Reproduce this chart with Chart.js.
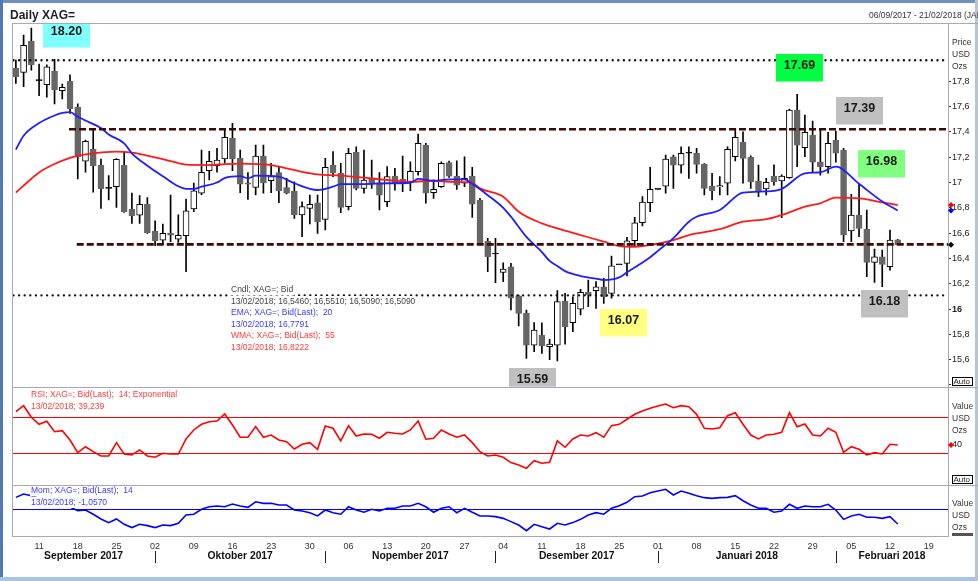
<!DOCTYPE html>
<html>
<head>
<meta charset="utf-8">
<script src="https://cdn.jsdelivr.net/npm/chart.js@4/dist/chart.umd.min.js"></script>
<style>
html, body { margin: 0; padding: 0; background: #fff; }
#wrap { position: relative; width: 978px; height: 581px; }
</style>
</head>
<body>
<div id="wrap"><canvas id="c" width="978" height="581"></canvas></div>
<script>
// ---- data (index 0 = 06/09/2017, weekdays only) ----
var opens = [17.905,17.871,18.116,17.805,17.773,17.879,17.726,17.800,17.594,17.168,
  17.262,17.136,16.954,16.967,17.136,16.788,16.741,16.828,16.617,16.545,
  16.601,16.553,16.580,16.791,16.915,17.093,17.133,17.186,17.349,17.191,
  16.998,16.962,17.209,17.014,17.078,16.959,16.933,16.743,16.796,16.840,
  16.709,17.138,17.073,16.809,17.239,16.954,17.038,16.998,16.848,17.051,
  17.028,16.998,17.085,17.296,16.919,16.967,17.157,17.051,16.994,17.051,
  16.862,16.535,16.435,16.290,16.334,16.105,15.966,15.715,15.794,15.702,
  15.715,16.063,15.892,15.998,16.132,16.145,16.176,16.124,16.350,16.361,
  16.540,16.682,16.840,16.946,16.972,17.204,17.138,17.231,17.231,17.144,
  16.972,16.965,16.994,17.204,17.318,17.199,17.012,16.949,17.051,17.012,
  17.038,17.573,17.275,17.375,17.164,17.125,17.336,17.257,16.617,16.743,
  16.632,16.369,16.413,16.334,16.546];
var highs = [17.968,18.166,18.221,17.937,17.930,17.974,17.779,17.852,17.621,17.336,
  17.415,17.186,17.054,17.190,17.241,16.917,16.896,16.880,16.698,16.672,
  16.901,16.745,16.870,16.996,17.257,17.247,17.270,17.415,17.468,17.257,
  17.078,17.296,17.296,17.152,17.130,17.033,17.006,16.848,16.901,16.901,
  17.191,17.244,17.152,17.270,17.283,17.257,17.178,17.078,17.125,17.112,
  17.209,17.164,17.383,17.310,17.020,17.164,17.170,17.172,17.204,17.120,
  16.875,16.559,16.559,16.366,16.361,16.111,15.992,15.892,15.890,15.760,
  16.145,16.124,16.097,16.156,16.229,16.216,16.243,16.419,16.350,16.567,
  16.725,16.888,17.120,16.946,17.217,17.217,17.283,17.283,17.270,17.150,
  17.073,17.046,17.283,17.428,17.400,17.210,17.138,17.033,17.140,17.060,
  17.580,17.697,17.534,17.486,17.415,17.397,17.407,17.270,16.907,16.986,
  16.783,16.474,16.466,16.625,16.551];
var lows = [17.784,17.757,17.889,17.686,17.674,17.621,17.660,17.547,17.028,17.081,
  16.923,16.796,16.862,16.804,16.764,16.677,16.677,16.598,16.500,16.508,
  16.532,16.527,16.295,16.770,16.904,17.020,17.081,17.152,17.093,16.919,
  16.867,16.901,16.915,16.919,16.840,16.910,16.717,16.572,16.672,16.598,
  16.625,17.046,16.761,16.783,16.941,16.915,16.954,16.783,16.809,16.940,
  16.927,16.935,17.059,16.836,16.875,16.962,17.040,16.946,16.967,16.725,
  16.519,16.295,16.208,16.216,15.992,15.866,15.610,15.662,15.650,15.600,
  15.590,15.723,15.821,15.953,16.018,16.005,16.045,16.085,16.350,16.261,
  16.498,16.656,16.769,16.946,16.915,16.954,17.073,17.033,17.073,16.901,
  16.862,16.901,16.901,17.170,16.994,16.954,16.888,16.901,16.980,16.722,
  17.033,17.125,17.204,17.081,17.059,17.073,17.160,16.532,16.532,16.572,
  16.255,16.211,16.176,16.308,16.509];
var closes = [17.836,18.085,17.931,17.805,17.915,17.734,17.753,17.583,17.204,17.326,
  17.133,16.951,16.954,17.183,16.769,16.738,16.828,16.603,16.540,16.598,
  16.583,16.583,16.777,16.935,17.081,17.168,17.178,17.357,17.186,16.986,
  16.986,17.209,16.998,17.046,16.935,16.915,16.743,16.809,16.828,16.690,
  17.120,17.078,16.804,17.231,16.954,17.020,16.994,16.899,17.046,16.996,
  16.988,17.089,17.310,16.915,16.946,17.152,17.051,16.980,17.033,16.828,
  16.524,16.413,16.435,16.316,16.085,15.966,15.715,15.834,15.708,15.723,
  16.058,15.860,16.045,16.132,16.111,16.176,16.097,16.342,16.350,16.540,
  16.682,16.846,16.946,16.946,17.186,17.138,17.231,17.231,17.144,16.954,
  16.935,16.975,17.262,17.357,17.191,17.006,16.927,17.002,17.006,17.051,
  17.573,17.296,17.397,17.160,17.125,17.310,17.231,16.585,16.743,16.638,
  16.369,16.413,16.353,16.545,16.509];

// EMA(20) and WMA(55) read at sample points (null = not read)
var ema20 = [];
var wma55 = [];
var emaRead = {0:17.26,1:17.37,3:17.47,5:17.53,6:17.55,7:17.557,8:17.52,9:17.49,11:17.43,12:17.38,
  14:17.31,15:17.23,17:17.133,19:17.05,21:16.97,22:16.95,23:16.949,24:16.967,26:17.0,27:17.035,
  29:17.05,30:17.033,31:17.054,34:17.046,36:16.994,39:16.941,41:16.967,42:16.988,45:16.988,48:16.994,
  51:16.998,52:17.028,54:17.014,56:17.025,58:17.025,59:16.99,61:16.90,63:16.80,64:16.73,66:16.57,
  68:16.45,69:16.38,70:16.34,71:16.30,73:16.261,75:16.24,76:16.229,78:16.25,79:16.29,82:16.41,
  83:16.46,85:16.56,87:16.69,88:16.729,91:16.783,94:16.92,97:16.93,99:16.949,102:17.073,104:17.081,
  106:17.125,109:16.99,112:16.85,114:16.779};
var wmaRead = {0:16.92,2:17.03,3:17.08,5:17.146,7:17.194,8:17.21,10:17.231,13:17.244,15:17.236,17:17.212,
  20:17.17,22:17.141,25:17.138,27:17.146,29:17.15,33:17.138,35:17.112,37:17.085,39:17.065,42:17.054,
  45:17.038,48:17.02,51:17.006,54:17.014,56:17.006,59:16.998,60:16.954,63:16.888,65:16.769,68:16.677,
  70:16.638,73:16.585,76:16.532,78:16.498,80:16.492,82:16.506,85:16.545,87:16.585,88:16.598,91:16.632,
  94:16.69,97:16.711,99:16.743,102:16.809,104:16.836,106:16.88,109:16.875,112:16.843,114:16.822};
for (var k = 0; k < closes.length; k++) {
  ema20.push(emaRead[k] !== undefined ? emaRead[k] : null);
  wma55.push(wmaRead[k] !== undefined ? wmaRead[k] : null);
}

var rsi14 = [76.2,82.9,70,62.2,65.6,54,55.1,44.8,30.7,37.3,
  31.8,27,27,41.8,29.2,28.1,33.7,27,25.6,30,
  29.2,29.2,45.9,55.9,62.2,65.1,65.9,73.7,61.4,47.8,
  47.8,59.6,47.8,50.3,44.8,42.9,34.8,40,41.8,34.4,
  60.3,57.8,43.7,60.7,49.2,51.4,51.1,46.7,53.3,52.2,
  51.4,55.9,65.9,45.6,46.7,55.9,51.4,47.8,50.3,41.8,
  31.8,27,28.1,25.6,19.6,17,13.3,21.8,18.9,20,
  43.7,36.7,45.9,50.3,49.2,52.9,47.8,60.7,62.2,67.8,
  73.3,77,80,82.6,84.8,80.7,82.9,81.8,73.3,57.8,
  57,58.4,71.8,75.1,62.2,50.3,45.9,50.3,51.1,53.3,
  75.1,59.6,62.6,50.3,49.2,57.8,53.3,31.1,37.3,34.4,
  28.1,30.7,29.2,40,39.239];
var mom14 = [0.82,1.06,0.94,0.75,0.6,0.4,0.3,0.14,-0.12,-0.07,
  -0.37,-0.70,-0.96,-0.70,-1.08,-1.31,-1.08,-1.17,-1.31,-1.13,
  -1.17,-1.01,-0.42,-0.37,-0.02,0.16,0.21,0.16,0.35,0.21,
  0.12,0.51,0.40,0.40,0.28,0.28,-0.07,-0.14,-0.26,-0.49,
  -0.07,-0.26,-0.37,0.16,-0.07,-0.23,-0.02,-0.14,0.05,0.05,
  0.21,0.21,0.40,0.16,-0.23,0.05,0.16,-0.26,0.05,-0.23,
  -0.49,-0.49,-0.54,-0.66,-0.89,-1.13,-1.53,-1.08,-1.25,-1.41,
  -1.01,-1.13,-0.96,-0.73,-0.42,-0.26,-0.37,0.05,0.23,0.47,
  0.87,0.92,1.15,1.27,1.39,0.99,1.27,1.11,0.94,0.80,
  0.75,0.80,0.82,0.94,0.58,0.28,0.05,0.05,-0.23,-0.14,
  0.33,0.05,0.21,0.16,0.16,0.33,-0.07,-0.73,-0.49,-0.37,
  -0.58,-0.58,-0.66,-0.54,-1.057];

var levelDots = [17.966, 16.108];        // dotted support / resistance
var levelDashes = [17.421, 16.511];      // dashed support / resistance
var rsiBands = [30, 70];
var monthNames = ['Januari','Februari','Maret','April','Mei','Juni','Juli','Agustus','September','Oktober','Nopember','Desember'];

// weekday categories 06/09/2017 .. 21/02/2018
var days = [];
for (var t = Date.UTC(2017, 8, 6); t <= Date.UTC(2018, 1, 21); t += 864e5) {
  var dd = new Date(t);
  if (dd.getUTCDay() > 0 && dd.getUTCDay() < 6) days.push(dd);
}
function pad2(n) { return (n < 10 ? '0' : '') + n; }
var categories = days.map(function (d) {
  return pad2(d.getUTCDate()) + '/' + pad2(d.getUTCMonth() + 1) + '/' + d.getUTCFullYear();
});

var FONT = '"Liberation Sans", Arial, sans-serif';

var wicks = lows.map(function (l, i) { return l == null ? null : [l, highs[i]]; });
var bodies = opens.map(function (o, i) { return o == null ? null : [o, closes[i]]; });
var bodyFill = opens.map(function (o, i) {
  var d = closes[i] - o;
  if (Math.abs(d) < 0.01) return '#000';
  return d > 0 ? '#fff' : '#666';
});
var bodyEdge = opens.map(function (o, i) {
  return closes[i] - o < -0.01 ? '#666' : '#000';
});

var boxes = [
  { text: '18.20', x: 43, y: 20, bg: '#80ffff' },
  { text: '17.69', x: 776, y: 54, bg: '#00ff40' },
  { text: '17.39', x: 836, y: 97, bg: '#c0c0c0' },
  { text: '16.98', x: 858, y: 150, bg: '#80ff80' },
  { text: '16.07', x: 600, y: 309, bg: '#ffff80' },
  { text: '15.59', x: 509, y: 368, bg: '#c0c0c0' },
  { text: '16.18', x: 861, y: 290, bg: '#c0c0c0' }
];

function textLines(ctx, lines, x, y0, step, clearBg) {
  ctx.font = '8.5px ' + FONT;
  ctx.textAlign = 'left';
  ctx.textBaseline = 'middle';
  lines.forEach(function (ln, i) {
    var y = y0 + i * step;
    if (clearBg) {
      ctx.fillStyle = '#fff';
      ctx.fillRect(x - 1, y - 5.5, ctx.measureText(ln[0]).width + 2, 11);
    }
    ctx.fillStyle = ln[1];
    ctx.fillText(ln[0], x, y);
  });
}

function diamond(ctx, x, y, r, color) {
  ctx.beginPath();
  ctx.moveTo(x, y - r); ctx.lineTo(x + r, y); ctx.lineTo(x, y + r); ctx.lineTo(x - r, y);
  ctx.closePath();
  ctx.fillStyle = color;
  ctx.fill();
}

var decor = {
  id: 'decor',
  beforeDraw: function (chart) {
    var ctx = chart.ctx;
    ctx.save();
    ctx.fillStyle = '#fff';
    ctx.fillRect(0, 0, chart.width, chart.height);
    // window frame
    ctx.fillStyle = '#6f8fbf';
    ctx.fillRect(0, 0, chart.width, 3);
    ctx.fillStyle = '#4f78b5';
    ctx.fillRect(0, 0, 3, chart.height);
    ctx.fillStyle = '#a9c3e3';
    ctx.fillRect(0, 577, chart.width, 4);
    ctx.fillStyle = '#b8c4d4';
    ctx.fillRect(975, 0, 3, chart.height);
    // header
    ctx.fillStyle = '#222';
    ctx.font = 'bold 12px ' + FONT;
    ctx.textBaseline = 'middle';
    ctx.textAlign = 'left';
    ctx.fillText('Daily XAG=', 10, 15.5);
    ctx.font = '8.5px ' + FONT;
    ctx.fillStyle = '#333';
    ctx.fillText('06/09/2017 - 21/02/2018 (JAKARTA)', 869, 16);
    ctx.restore();
  },
  afterDatasetsDraw: function (chart) {
    var ctx = chart.ctx, a = chart.chartArea;
    var x = chart.scales.x, y = chart.scales.y, yR = chart.scales.yR, yM = chart.scales.yM;
    ctx.save();
    // indicator reference lines
    ctx.setLineDash([]);
    ctx.lineWidth = 1;
    ctx.strokeStyle = 'rgb(255,0,0)';
    rsiBands.forEach(function (v) {
      var py = Math.round(yR.getPixelForValue(v)) + 0.5;
      ctx.beginPath(); ctx.moveTo(a.left, py); ctx.lineTo(a.right, py); ctx.stroke();
    });
    ctx.strokeStyle = 'rgb(0,0,255)';
    var y0 = Math.round(yM.getPixelForValue(0)) + 0.5;
    ctx.beginPath(); ctx.moveTo(a.left, y0); ctx.lineTo(a.right, y0); ctx.stroke();
    ctx.restore();

    ctx.save();
    ctx.beginPath();
    ctx.rect(a.left, y.top, a.right - a.left, y.bottom - y.top);
    ctx.clip();
    // support / resistance lines
    ctx.strokeStyle = '#111';
    ctx.lineWidth = 2.4;
    ctx.lineCap = 'round';
    ctx.setLineDash([0, 5.6]);
    levelDots.forEach(function (v) {
      var py = y.getPixelForValue(v);
      ctx.beginPath(); ctx.moveTo(a.left + 1.5, py); ctx.lineTo(a.right, py); ctx.stroke();
    });
    ctx.lineCap = 'butt';
    ctx.strokeStyle = '#3d0a0a';
    ctx.lineWidth = 2.6;
    ctx.setLineDash([7, 3]);
    [7, 8].forEach(function (startIdx, i) {
      var py = y.getPixelForValue(levelDashes[i]);
      ctx.beginPath(); ctx.moveTo(x.getPixelForValue(startIdx) - 1, py); ctx.lineTo(a.right, py); ctx.stroke();
    });
    ctx.setLineDash([]);
    // value boxes
    ctx.font = 'bold 12.5px ' + FONT;
    ctx.textAlign = 'center';
    ctx.textBaseline = 'middle';
    boxes.forEach(function (b) {
      ctx.fillStyle = b.bg;
      ctx.fillRect(b.x, b.y, 47, 27.5);
      ctx.fillStyle = '#1a1a1a';
      ctx.fillText(b.text, b.x + 23.5, b.y + 12);
    });
    // price legend
    textLines(ctx, [
      ['Cndl; XAG=; Bid', '#444'],
      ['13/02/2018; 16,5460; 16,5510; 16,5090; 16,5090', '#444'],
      ['EMA; XAG=; Bid(Last);  20', '#3a3aff'],
      ['13/02/2018; 16,7791', '#3a3aff'],
      ['WMA; XAG=; Bid(Last);  55', '#ff3a3a'],
      ['13/02/2018; 16,8222', '#ff3a3a']
    ], 231, 290, 11.5, true);
    ctx.restore();

    ctx.save();
    textLines(ctx, [
      ['RSI; XAG=; Bid(Last);  14; Exponential', '#ff3a3a'],
      ['13/02/2018; 39,239', '#ff3a3a']
    ], 31, 395, 12, true);
    textLines(ctx, [
      ['Mom; XAG=; Bid(Last);  14', '#3a3aff'],
      ['13/02/2018; -1,0570', '#3a3aff']
    ], 31, 491, 11.5, true);
    ctx.restore();
  },
  afterDraw: function (chart) {
    var ctx = chart.ctx, a = chart.chartArea;
    var x = chart.scales.x, y = chart.scales.y, yR = chart.scales.yR, yM = chart.scales.yM;
    ctx.save();
    // panel borders
    ctx.strokeStyle = '#a8a8b8';
    ctx.lineWidth = 1;
    ctx.beginPath();
    ctx.moveTo(a.left + 0.5, a.top - 1); ctx.lineTo(a.left + 0.5, a.bottom);
    ctx.moveTo(a.left, a.top - 0.5); ctx.lineTo(chart.width, a.top - 0.5);
    ctx.moveTo(a.left, Math.round(yR.top) + 0.5); ctx.lineTo(chart.width, Math.round(yR.top) + 0.5);
    ctx.moveTo(a.left, Math.round(yM.top) + 0.5); ctx.lineTo(chart.width, Math.round(yM.top) + 0.5);
    ctx.stroke();
    // right axis texts
    ctx.fillStyle = '#333';
    ctx.font = '8.5px ' + FONT;
    ctx.textAlign = 'left';
    ctx.textBaseline = 'middle';
    ['Price', 'USD', 'Ozs'].forEach(function (s, i) { ctx.fillText(s, 952, 42.5 + i * 12); });
    ['Value', 'USD', 'Ozs'].forEach(function (s, i) { ctx.fillText(s, 952, 407 + i * 12); });
    ['Value', 'USD', 'Ozs'].forEach(function (s, i) { ctx.fillText(s, 952, 503.5 + i * 12); });
    // auto boxes
    [[377, 'Auto'], [475, 'Auto']].forEach(function (b) {
      ctx.fillStyle = '#fff';
      ctx.fillRect(952, b[0], 20, 9);
      ctx.strokeStyle = '#000';
      ctx.strokeRect(952.5, b[0] + 0.5, 20, 8);
      ctx.fillStyle = '#222';
      ctx.font = '8px ' + FONT;
      ctx.fillText(b[1], 953.5, b[0] + 5);
    });
    ctx.fillStyle = '#555';
    ctx.fillRect(952, 533, 21, 3);
    // last value markers
    var last = closes.length - 1;
    diamond(ctx, 951, y.getPixelForValue(wma55[last]), 3, '#ff0000');
    diamond(ctx, 951, y.getPixelForValue(ema20[last]), 3, '#0000ff');
    diamond(ctx, 951, y.getPixelForValue(closes[last]), 3, '#000');
    diamond(ctx, 951, yR.getPixelForValue(rsi14[last]), 3, '#ff0000');
    // month row
    var starts = [];
    days.forEach(function (d, i) {
      if (i === 0 || d.getUTCMonth() !== days[i - 1].getUTCMonth()) starts.push(i);
    });
    ctx.strokeStyle = '#222';
    ctx.font = 'bold 10.3px ' + FONT;
    ctx.textAlign = 'center';
    ctx.fillStyle = '#111';
    starts.forEach(function (s, j) {
      var left = j === 0 ? a.left : x.getPixelForValue(s);
      var right = j === starts.length - 1 ? a.right : x.getPixelForValue(starts[j + 1]);
      if (j > 0) {
        var px = Math.round(left) + 0.5;
        ctx.beginPath(); ctx.moveTo(px, 551); ctx.lineTo(px, 563); ctx.stroke();
      }
      var d = days[s];
      ctx.fillText(monthNames[d.getUTCMonth()] + ' ' + d.getUTCFullYear(), (left + right) / 2, 556);
    });
    ctx.restore();
  }
};

new Chart(document.getElementById('c').getContext('2d'), {
  type: 'bar',
  data: {
    labels: categories,
    datasets: [
      { type: 'line', label: 'EMA 20', data: ema20, yAxisID: 'y', borderColor: '#1e1eff', borderWidth: 1.8,
        pointRadius: 0, spanGaps: true, cubicInterpolationMode: 'monotone', order: 0 },
      { type: 'line', label: 'WMA 55', data: wma55, yAxisID: 'y', borderColor: '#ff1a1a', borderWidth: 1.8,
        pointRadius: 0, spanGaps: true, cubicInterpolationMode: 'monotone', order: 0 },
      { type: 'bar', label: 'Body', data: bodies, yAxisID: 'y', backgroundColor: bodyFill, borderColor: bodyEdge,
        borderWidth: 1, borderSkipped: false, barThickness: 6, grouped: false, minBarLength: 1, order: 1 },
      { type: 'bar', label: 'Wick', data: wicks, yAxisID: 'y', backgroundColor: '#000', borderWidth: 0,
        barThickness: 1, grouped: false, order: 2 },
      { type: 'line', label: 'RSI', data: rsi14, yAxisID: 'yR', borderColor: '#ff0000', borderWidth: 1.6,
        pointRadius: 0, tension: 0, order: 0 },
      { type: 'line', label: 'Mom', data: mom14, yAxisID: 'yM', borderColor: '#0000ff', borderWidth: 1.6,
        pointRadius: 0, tension: 0, order: 0 }
    ]
  },
  options: {
    responsive: false,
    animation: false,
    devicePixelRatio: 1,
    layout: { padding: { left: 12, top: 24, right: 0, bottom: 0 } },
    plugins: { legend: { display: false }, tooltip: { enabled: false } },
    scales: {
      x: {
        type: 'category',
        offset: true,
        grid: { display: false, drawTicks: false },
        border: { display: true, color: '#a8a8b8' },
        ticks: {
          autoSkip: false, maxRotation: 0, padding: 5, color: '#333',
          font: { size: 9, family: FONT },
          callback: function (v, i) { return days[i].getUTCDay() === 1 ? pad2(days[i].getUTCDate()) : ''; }
        },
        afterFit: function (s) { s.height = 45; }
      },
      y: {
        position: 'right', stack: 'panels', stackWeight: 362.7,
        min: 15.386, max: 18.253,
        border: { color: '#a8a8b8' },
        grid: { drawOnChartArea: false, tickLength: 3,
          color: function (c) { return c.tick && c.tick.value > 17.9 ? 'rgba(0,0,0,0)' : '#333'; } },
        ticks: {
          stepSize: 0.2, includeBounds: false, padding: 1, color: '#222',
          font: function (c) { return { size: 9, family: FONT, weight: c.tick && Math.abs(c.tick.value - 16) < 1e-6 ? 'bold' : 'normal' }; },
          callback: function (v) {
            if (v > 17.9 || v < 15.5) return '';
            return String(Math.round(v * 10) / 10).replace('.', ',');
          }
        },
        afterFit: function (s) { s.width = 30; }
      },
      yR: {
        position: 'right', stack: 'panels', stackWeight: 97.8,
        min: -4.7, max: 104,
        border: { color: '#a8a8b8' },
        grid: { drawOnChartArea: false, tickLength: 3,
          color: function (c) { return c.tick && (c.tick.value === 20 || c.tick.value === 40) ? '#333' : 'rgba(0,0,0,0)'; } },
        ticks: {
          stepSize: 20, includeBounds: false, padding: 1, color: '#222', font: { size: 9, family: FONT },
          callback: function (v) { return v === 20 || v === 40 ? String(v) : ''; }
        },
        afterFit: function (s) { s.width = 30; }
      },
      yM: {
        position: 'right', stack: 'panels', stackWeight: 51.5,
        min: -1.903, max: 1.727,
        border: { color: '#a8a8b8' },
        grid: { display: false },
        ticks: { display: false },
        afterFit: function (s) { s.width = 30; }
      }
    }
  },
  plugins: [decor]
});
</script>
</body>
</html>
